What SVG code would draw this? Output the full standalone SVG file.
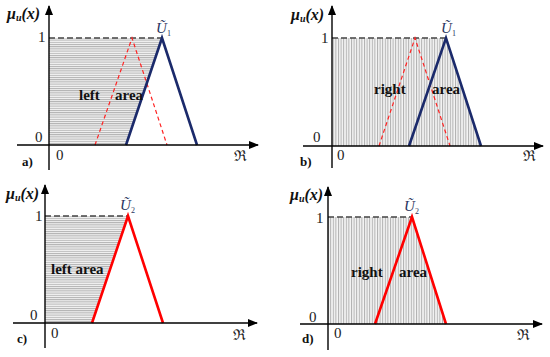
<svg xmlns="http://www.w3.org/2000/svg" width="550" height="357" viewBox="0 0 550 357">
<style>
.ax{stroke:#000;stroke-width:1.4;fill:none}
.top{stroke:#444;stroke-width:1.5;stroke-dasharray:6,3;fill:none}
.blue{stroke:#1b2a6b;stroke-width:2.6;fill:none;stroke-linejoin:miter}
.red{stroke:#f00;stroke-width:2.6;fill:none}
.reddash{stroke:#f22;stroke-width:1.2;stroke-dasharray:4,3;fill:none}
.t{font-family:"Liberation Serif",serif;font-size:15px;fill:#222}
.b{font-family:"Liberation Serif",serif;font-size:15px;font-weight:bold;fill:#111}
.lab{font-family:"Liberation Serif",serif;font-size:13px;font-weight:bold;fill:#111}
.mu{font-family:"Liberation Serif",serif;font-size:16px;font-weight:bold;font-style:italic;fill:#111}
.u{font-family:"Liberation Serif",serif;font-size:15px;font-style:italic;fill:#2a3560}
.sub{font-family:"Liberation Serif",serif;font-size:8px;fill:#2a3560}
.R{font-family:"DejaVu Serif",serif;font-size:15px;fill:#222}
</style>
<defs>
<marker id="arr" markerWidth="10" markerHeight="8" refX="9" refY="4" orient="auto" markerUnits="userSpaceOnUse">
<path d="M0,0 L10,4 L0,8 Z" fill="#000"/>
</marker>
<pattern id="hh" width="6" height="2.2" patternUnits="userSpaceOnUse">
<rect width="6" height="2.2" fill="#f4f4f4"/>
<rect width="6" height="1" fill="#b0b0b0"/>
</pattern>
<pattern id="vh" width="2.6" height="6" patternUnits="userSpaceOnUse">
<rect width="2.6" height="6" fill="#f4f4f4"/>
<rect width="1" height="6" fill="#b0b0b0"/>
</pattern>
</defs>

<g id="panel-a">
<polygon points="49,38 162,38 126,145 49,145" fill="url(#hh)"/>
<line class="top" x1="49" y1="38" x2="162" y2="38"/>
<polyline class="reddash" points="95,145 132,38 167,145"/>
<polyline class="blue" points="126,145 162,38 197,145"/>
<line class="ax" x1="17" y1="145" x2="258" y2="145" marker-end="url(#arr)"/>
<line class="ax" x1="49" y1="170" x2="49" y2="6" marker-end="url(#arr)"/>
<text class="mu" x="7" y="19">μ<tspan font-size="10" dy="2">u</tspan><tspan dy="-2">(x)</tspan></text>
<text class="t" x="38" y="42">1</text>
<text class="t" x="35" y="142">0</text>
<text class="t" x="56" y="160">0</text>
<text class="lab" x="22" y="166">a)</text>
<text class="R" x="234" y="161">ℜ</text>
<text class="b" x="79" y="100">left</text>
<text class="b" x="115" y="100">area</text>
<text class="u" x="156" y="33">Ũ</text><text class="sub" x="167" y="36">1</text>
</g>

<g id="panel-b">
<polygon points="332,38 446,38 481,146 332,146" fill="url(#vh)"/>
<line class="top" x1="332" y1="38" x2="446" y2="38"/>
<polyline class="reddash" points="379,146 415,38 450,146"/>
<polyline class="blue" points="409,146 446,38 481,146"/>
<line class="ax" x1="303" y1="146" x2="543" y2="146" marker-end="url(#arr)"/>
<line class="ax" x1="332" y1="168" x2="332" y2="6" marker-end="url(#arr)"/>
<text class="mu" x="291" y="20">μ<tspan font-size="10" dy="2">u</tspan><tspan dy="-2">(x)</tspan></text>
<text class="t" x="321" y="43">1</text>
<text class="t" x="313" y="142">0</text>
<text class="t" x="337" y="160">0</text>
<text class="lab" x="300" y="166">b)</text>
<text class="R" x="523" y="161">ℜ</text>
<text class="b" x="374" y="94">right</text>
<text class="b" x="432" y="94">area</text>
<text class="u" x="441" y="33">Ũ</text><text class="sub" x="452" y="36">1</text>
</g>

<g id="panel-c">
<polygon points="45,216 128,216 92,323 45,323" fill="url(#hh)"/>
<line class="top" x1="45" y1="216" x2="128" y2="216"/>
<polyline class="red" points="92,323 128,216 163,323"/>
<line class="ax" x1="13" y1="323" x2="257" y2="323" marker-end="url(#arr)"/>
<line class="ax" x1="45" y1="348" x2="45" y2="185" marker-end="url(#arr)"/>
<text class="mu" x="6" y="199">μ<tspan font-size="10" dy="2">u</tspan><tspan dy="-2">(x)</tspan></text>
<text class="t" x="35" y="221">1</text>
<text class="t" x="30" y="320">0</text>
<text class="t" x="51" y="338">0</text>
<text class="lab" x="17" y="343">c)</text>
<text class="R" x="233" y="340">ℜ</text>
<text class="b" x="51" y="274">left area</text>
<text class="u" x="120" y="210">Ũ</text><text class="sub" x="131" y="213">2</text>
</g>

<g id="panel-d">
<polygon points="328,217 412,217 446,324 328,324" fill="url(#vh)"/>
<line class="top" x1="328" y1="217" x2="412" y2="217"/>
<polyline class="red" points="375,324 412,217 446,324"/>
<line class="ax" x1="300" y1="324" x2="542" y2="324" marker-end="url(#arr)"/>
<line class="ax" x1="328" y1="350" x2="328" y2="187" marker-end="url(#arr)"/>
<text class="mu" x="290" y="200">μ<tspan font-size="10" dy="2">u</tspan><tspan dy="-2">(x)</tspan></text>
<text class="t" x="316" y="223">1</text>
<text class="t" x="309" y="322">0</text>
<text class="t" x="334" y="338">0</text>
<text class="lab" x="302" y="343">d)</text>
<text class="R" x="517" y="340">ℜ</text>
<text class="b" x="351" y="277">right</text>
<text class="b" x="399" y="277">area</text>
<text class="u" x="404" y="211">Ũ</text><text class="sub" x="415" y="214">2</text>
</g>
</svg>
